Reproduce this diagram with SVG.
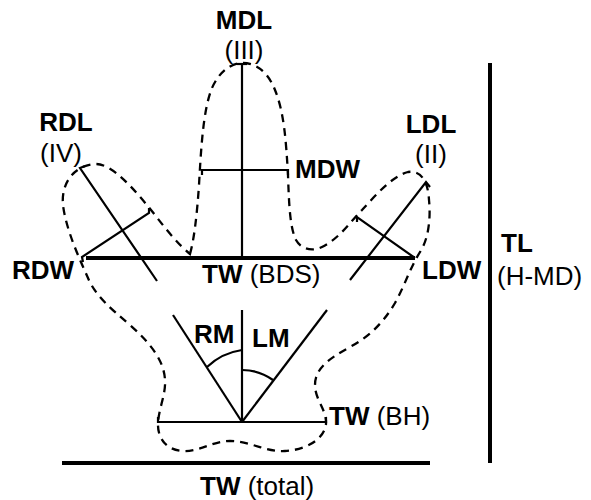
<svg xmlns="http://www.w3.org/2000/svg" width="591" height="500" viewBox="0 0 591 500">
  <style>
    .ln { stroke: #000; stroke-width: 2.2; fill: none; stroke-linecap: butt; }
    .thick { stroke: #000; stroke-width: 4; fill: none; }
    .outline { stroke: #000; stroke-width: 2.3; fill: none; stroke-dasharray: 8 6; }
    text { font-family: "Liberation Sans", Arial, sans-serif; font-size: 26px; fill: #000; }
    .b { font-weight: bold; }
  </style>
  <rect width="591" height="500" fill="#fff"/>

  <!-- outline of the hand -->
  <g id="outline">
    <path class="outline" d="M 190,254 C 194,240 197,215 199,185 C 201,150 203,110 212,88 C 220,70 232,63 243,63 C 256,63 268,72 275,90 C 284,112 286,140 288,175 C 289,205 290,228 296,240 C 301,249 312,252 322,247 C 340,238 350,222 362,210 C 375,196 392,176 408,172 C 420,170 428,180 429,200 C 431,220 428,240 420,252 C 410,268 405,285 395,303 C 385,320 372,335 350,347 C 330,358 315,368 315,385 C 315,400 327,410 326,424 C 324,440 305,450 285,451 C 265,452 250,441 230,441 C 212,441 200,452 182,451 C 168,450 158,440 158,425 C 158,410 166,395 165,380 C 164,360 150,343 130,325 C 110,308 95,295 88,278 C 80,260 66,230 63,205 C 61,185 72,166 95,164 C 112,163 135,190 155,215 C 168,232 180,246 190,254 Z"/>
  </g>

  <!-- measurement lines -->
  <g id="connectors">
    <!-- middle digit -->
    <line class="ln" x1="242" y1="64" x2="242" y2="258"/>
    <line class="ln" x1="237" y1="64" x2="247" y2="64"/>
    <polyline class="ln" points="202,175 202,170 288,170 288,175"/>
    <!-- right digit -->
    <polyline class="ln" points="85,166 80,168 157,281"/>
    <polyline class="ln" points="83,262 82,257 149,213 149,208"/>
    <!-- left digit -->
    <polyline class="ln" points="430,187 426,182 350,280"/>
    <polyline class="ln" points="357,222 357,217 415,258"/>
    <!-- base widths -->
    <line class="thick" x1="86" y1="258" x2="415" y2="258"/>
    <polyline class="ln" points="158,417 158,422 326,422 326,417"/>
    <line class="thick" x1="62" y1="463" x2="430" y2="463"/>
    <line class="thick" x1="490" y1="63" x2="490" y2="463"/>
    <!-- heel angles -->
    <line class="ln" x1="242" y1="422" x2="242" y2="310"/>
    <line class="ln" x1="242" y1="422" x2="173" y2="315"/>
    <line class="ln" x1="242" y1="422" x2="327" y2="310"/>
    <path class="ln" d="M 207,367 A 64 64 0 0 1 242,350"/>
    <path class="ln" d="M 242,370 A 52 52 0 0 1 273,380"/>
  </g>

  <!-- labels -->
  <g id="label-mdl">
    <text class="b" x="244" y="29" text-anchor="middle">MDL</text>
    <text x="244" y="59" text-anchor="middle">(III)</text>
  </g>
  <g id="label-rdl">
    <text class="b" x="66" y="131" text-anchor="middle">RDL</text>
    <text x="61" y="162" text-anchor="middle">(IV)</text>
  </g>
  <g id="label-ldl">
    <text class="b" x="431" y="133" text-anchor="middle">LDL</text>
    <text x="431" y="163" text-anchor="middle">(II)</text>
  </g>
  <g id="label-mdw">
    <text class="b" x="295" y="178">MDW</text>
  </g>
  <g id="label-rdw">
    <text class="b" x="12" y="279">RDW</text>
  </g>
  <g id="label-ldw">
    <text class="b" x="422" y="279">LDW</text>
  </g>
  <g id="label-tw-bds">
    <text x="202" y="283"><tspan class="b">TW</tspan> (BDS)</text>
  </g>
  <g id="label-tl">
    <text class="b" x="501" y="252">TL</text>
    <text x="497" y="285">(H-MD)</text>
  </g>
  <g id="label-rm">
    <text class="b" x="194" y="343">RM</text>
  </g>
  <g id="label-lm">
    <text class="b" x="252" y="347">LM</text>
  </g>
  <g id="label-tw-bh">
    <text x="329" y="425"><tspan class="b">TW</tspan> (BH)</text>
  </g>
  <g id="label-tw-total">
    <text x="200" y="495"><tspan class="b">TW</tspan> (total)</text>
  </g>
</svg>
